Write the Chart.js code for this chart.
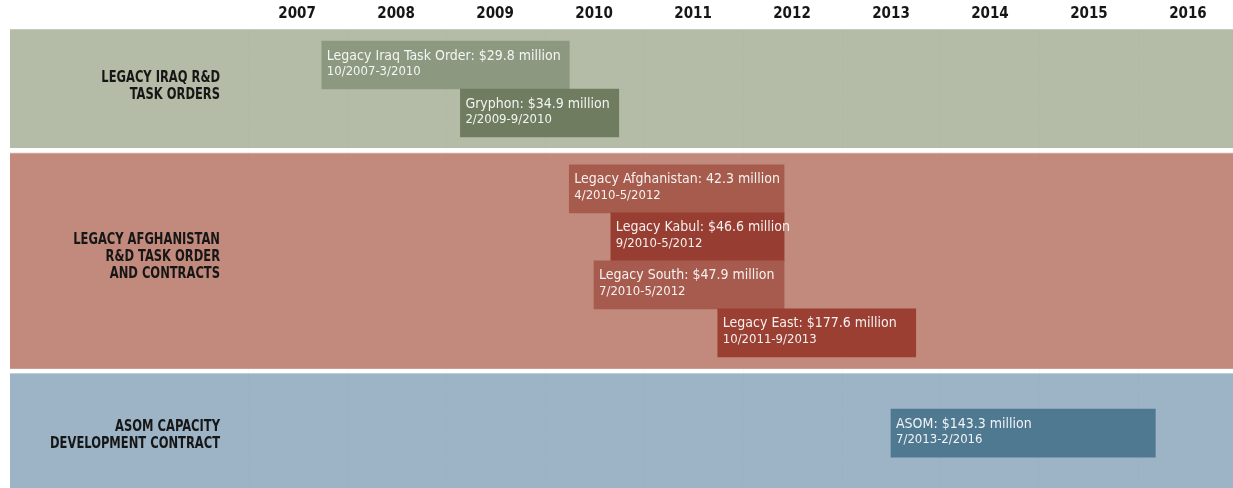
<!doctype html>
<html lang="en">
	<head>
		<meta charset="UTF-8" />
		<title>Task order timeline</title>
		<script src="https://cdn.jsdelivr.net/npm/chart.js"></script>
		<style>
			html,
			body {
				margin: 0;
				padding: 0;
				background: #ffffff;
			}
			#wrap {
				position: relative;
				width: 1233px;
				height: 488px;
			}
		</style>
	</head>
	<body>
		<div id="wrap">
			<canvas id="timeline"></canvas>
		</div>

		<script>
			// Axis years (labels sit in the middle of each year)
			const years = [2007, 2008, 2009, 2010, 2011, 2012, 2013, 2014, 2015, 2016]

			// Contracts, one entry per bar
			const tasks = [
				'Legacy Iraq Task Order',
				'Gryphon',
				'Legacy Afghanistan',
				'Legacy Kabul',
				'Legacy South',
				'Legacy East',
				'ASOM'
			]
			const amounts = [
				'$29.8 million',
				'$34.9 million',
				'42.3 million',
				'$46.6 million',
				'$47.9 million',
				'$177.6 million',
				'$143.3 million'
			]
			const periods = [
				'10/2007-3/2010',
				'2/2009-9/2010',
				'4/2010-5/2012',
				'9/2010-5/2012',
				'7/2010-5/2012',
				'10/2011-9/2013',
				'7/2013-2/2016'
			]
			// start / end as decimal years
			const starts = [2007.75, 2009.15, 2010.25, 2010.67, 2010.5, 2011.75, 2013.5]
			const ends = [2010.25, 2010.75, 2012.42, 2012.42, 2012.42, 2013.75, 2016.17]
			// row (lane) of each bar on the vertical scale
			const lanes = [0.75, 1.75, 3.33, 4.33, 5.33, 6.33, 8.42]

			// Groups (background bands)
			const groups = [
				['LEGACY IRAQ R&D', 'TASK ORDERS'],
				['LEGACY AFGHANISTAN', 'R&D TASK ORDER', 'AND CONTRACTS'],
				['ASOM CAPACITY', 'DEVELOPMENT CONTRACT']
			]
			const groupFrom = [0, 2.58, 7.17]
			const groupTo = [2.48, 7.08, 9.6]
			const groupLabelAt = [1.19, 4.75, 8.46]

			// styles
			const barColors = ['#8c9980', '#6f7c60', '#a65b4c', '#973d31', '#a75b4e', '#9a3f32', '#4f7891']
			const bandColors = ['#b4bca7', '#c28a7c', '#9cb4c6']
			const condensed = "'Liberation Sans Narrow', 'DejaVu Sans Condensed', 'Arial Narrow', sans-serif"

			// background bands + group labels, then text on the bars
			const bandsPlugin = {
				id: 'bands',
				beforeDatasetsDraw(chart) {
					const { ctx, chartArea, scales } = chart
					const y = scales.y
					const x = scales.x
					ctx.save()
					groups.forEach((lines, i) => {
						const top = y.getPixelForValue(groupFrom[i])
						const bottom = y.getPixelForValue(groupTo[i])
						ctx.fillStyle = bandColors[i]
						ctx.fillRect(chartArea.left, top, chartArea.right - chartArea.left, bottom - top)
						ctx.fillStyle = 'rgba(255,255,255,0.25)'
						ctx.fillRect(chartArea.left, top, chartArea.right - chartArea.left, 1)
					})

					// faint dotted year boundaries
					ctx.strokeStyle = 'rgba(110,110,110,0.08)'
					ctx.setLineDash([1, 2])
					ctx.lineWidth = 1
					years.forEach((yr) => {
						const px = Math.round(x.getPixelForValue(yr)) + 0.5
						ctx.beginPath()
						ctx.moveTo(px, chartArea.top)
						ctx.lineTo(px, chartArea.bottom)
						ctx.stroke()
					})
					ctx.setLineDash([])

					// group names: bold, squeezed horizontally to look condensed
					ctx.fillStyle = '#161616'
					ctx.font = 'bold 16px ' + condensed
					ctx.textAlign = 'right'
					ctx.textBaseline = 'middle'
					const lineH = 17
					groups.forEach((lines, i) => {
						const cy = y.getPixelForValue(groupLabelAt[i])
						const first = cy - ((lines.length - 1) * lineH) / 2
						lines.forEach((t, j) => {
							ctx.save()
							ctx.translate(220, first + j * lineH)
							ctx.scale(0.8, 1)
							ctx.fillText(t, 0, 0)
							ctx.restore()
						})
					})
					ctx.restore()
				},
				afterDatasetsDraw(chart) {
					const { ctx } = chart
					const meta = chart.getDatasetMeta(0)
					ctx.save()
					ctx.fillStyle = 'rgba(250,250,250,0.95)'
					ctx.textAlign = 'left'
					ctx.textBaseline = 'alphabetic'
					meta.data.forEach((bar, i) => {
						const left = Math.min(bar.x, bar.base)
						const top = bar.y - bar.height / 2
						ctx.font = '14px ' + condensed
						ctx.fillText(tasks[i] + ': ' + amounts[i], left + 5, top + 18.5)
						ctx.font = '13px ' + condensed
						ctx.fillText(periods[i], left + 5, top + 34)
					})
					ctx.restore()
				}
			}

			new Chart(document.getElementById('timeline'), {
				type: 'bar',
				data: {
					datasets: [
						{
							data: tasks.map((t, i) => ({ x: [starts[i], ends[i]], y: lanes[i] })),
							backgroundColor: barColors,
							borderWidth: 0,
							barThickness: 48
						}
					]
				},
				options: {
					indexAxis: 'y',
					responsive: true,
					maintainAspectRatio: false,
					animation: false,
					layout: { padding: { left: 10, right: 0, top: 0, bottom: 0 } },
					plugins: {
						legend: { display: false },
						tooltip: { enabled: false }
					},
					scales: {
						x: {
							type: 'linear',
							position: 'top',
							min: 2004.6,
							max: 2016.955,
							afterBuildTicks: (scale) => {
								scale.ticks = years.map((yr) => ({ value: yr + 0.5 }))
							},
							afterFit: (scale) => {
								scale.height = 29
							},
							ticks: {
								autoSkip: false,
								maxRotation: 0,
								padding: 6,
								color: '#161616',
								font: { family: condensed, size: 15, weight: 'bold' },
								callback: (v) => String(Math.floor(v))
							},
							grid: { display: false, drawTicks: false },
							border: { display: false }
						},
						y: {
							type: 'linear',
							display: false,
							offset: false,
							reverse: true,
							min: 0,
							max: 9.5625
						}
					}
				},
				plugins: [bandsPlugin]
			})
		</script>
	</body>
</html>
